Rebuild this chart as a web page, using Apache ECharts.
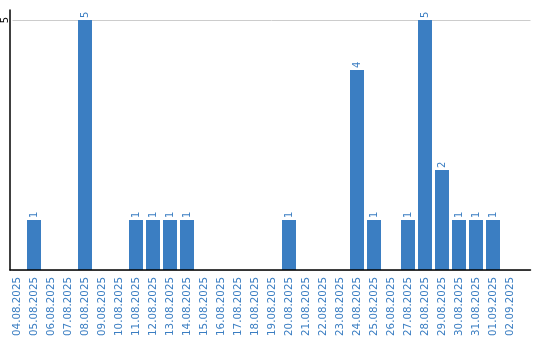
<!DOCTYPE html>
<html><head><meta charset="utf-8">
<script src="https://cdn.jsdelivr.net/npm/echarts@6/dist/echarts.min.js"></script>
<style>html,body{margin:0;padding:0;background:#fff}#c{width:540px;height:340px}</style>
</head><body><div id="c"></div>
<script>
const categories = ["04.08.2025","05.08.2025","06.08.2025","07.08.2025","08.08.2025","09.08.2025","10.08.2025","11.08.2025","12.08.2025","13.08.2025","14.08.2025","15.08.2025","16.08.2025","17.08.2025","18.08.2025","19.08.2025","20.08.2025","21.08.2025","22.08.2025","23.08.2025","24.08.2025","25.08.2025","26.08.2025","27.08.2025","28.08.2025","29.08.2025","30.08.2025","31.08.2025","01.09.2025","02.09.2025"];
const values = [0,1,0,0,5,0,0,1,1,1,1,0,0,0,0,0,1,0,0,0,4,1,0,1,5,2,1,1,1,0];
const yTicks = [5];

const blue = '#3b7ec2';
const font = 'DejaVu Sans';
const chart = echarts.init(document.getElementById('c'));
chart.setOption({
  animation: false,
  grid: [
    {left: 10, right: 9.5, top: 10, bottom: 70},
    {left: 10, right: 9.5, top: 20, bottom: 70},
    {left: 8.5, width: 510, top: 20, bottom: 70}
  ],
  xAxis: [
    {gridIndex: 0, type: 'value', min: 0, max: 1, z: 5, axisLine: {show: true, lineStyle: {color: '#000', width: 1.5}},
     axisTick: {show: false}, axisLabel: {show: false}, splitLine: {show: false}},
    {gridIndex: 1, type: 'value', min: 0, max: 1, show: false},
    {gridIndex: 2, type: 'category', data: categories, axisLine: {show: false}, axisTick: {show: false},
     axisLabel: {rotate: 90, margin: 7, color: blue, fontFamily: font, fontSize: 10.3, interval: 0}}
  ],
  yAxis: [
    {gridIndex: 0, type: 'value', min: 0, max: 1, z: 5,
     axisLine: {show: true, lineStyle: {color: '#000', width: 1.5}}, axisTick: {show: false},
     axisLabel: {show: false}, splitLine: {show: false}},
    {gridIndex: 1, type: 'value', min: 0, max: 5, interval: 5,
     axisLine: {show: false}, axisTick: {show: false},
     axisLabel: {rotate: 90, margin: 2.5, color: '#000', fontFamily: font, fontSize: 10,
       formatter: v => yTicks.includes(v) ? String(v) : ''},
     splitLine: {show: true, lineStyle: {color: '#cccccc', width: 1}}},
    {gridIndex: 2, type: 'value', min: 0, max: 5, show: false}
  ],
  series: [{
    type: 'bar', xAxisIndex: 2, yAxisIndex: 2, data: values, barWidth: 14,
    itemStyle: {color: blue},
    label: {show: true, position: 'top', rotate: 90, align: 'left', verticalAlign: 'middle', distance: 2,
      color: blue, fontFamily: font, fontSize: 10, formatter: p => p.value ? String(p.value) : ''}
  }]
});
</script></body></html>
